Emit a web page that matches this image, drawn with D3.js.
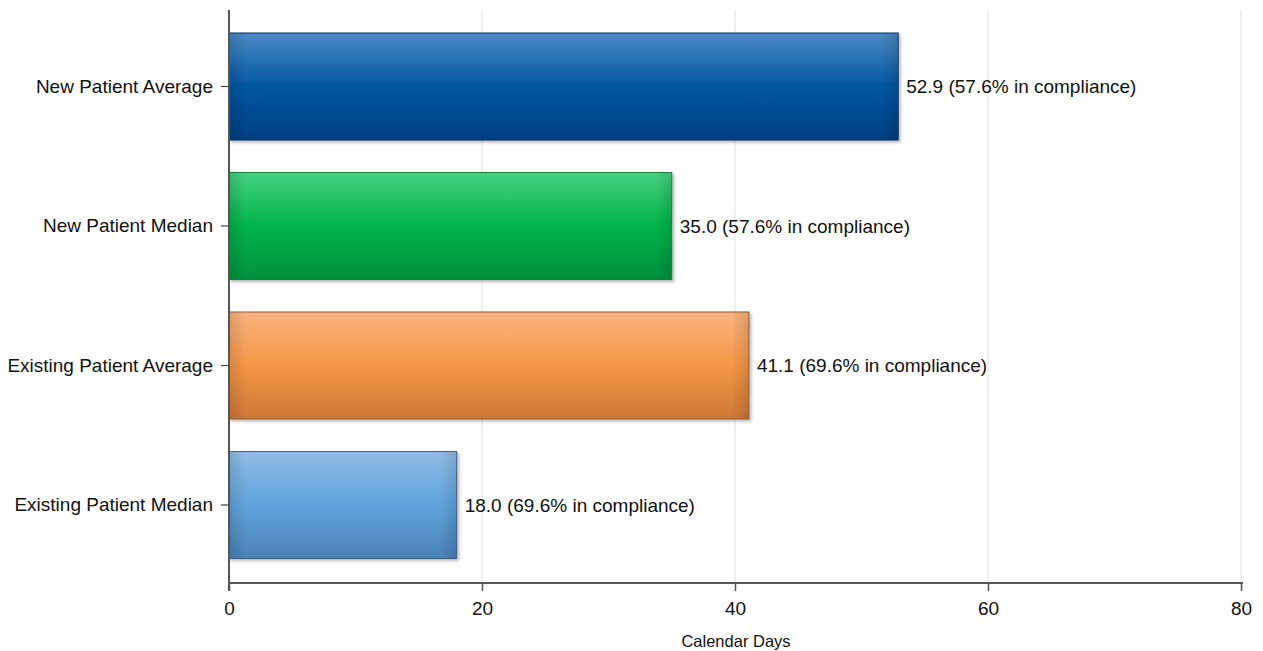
<!DOCTYPE html>
<html>
<head>
<meta charset="utf-8">
<script src="https://cdn.jsdelivr.net/npm/d3@7"></script>
<style>
  html, body { margin: 0; padding: 0; background: #fff; }
  svg { display: block; font-family: "Liberation Sans", Arial, Helvetica, sans-serif; }
</style>
</head>
<body>
<svg id="chart" width="1263" height="651"></svg>
<script>
// Wait-time measures, in calendar days
const categories = ["New Patient Average", "New Patient Median", "Existing Patient Average", "Existing Patient Median"];
const days = [52.9, 35.0, 41.1, 18.0];
const compliance = [57.6, 57.6, 69.6, 69.6];
const xTicks = [0, 20, 40, 60, 80];
const xTitle = "Calendar Days";

// Bar colour ramps: top highlight, body, bottom shade, border
const palette = [
  { top: "#4c8ac3", mid: "#0156a2", bot: "#003f80", stroke: "#0a2f5c" },
  { top: "#47d17f", mid: "#00b44b", bot: "#00913c", stroke: "#1c7a3e" },
  { top: "#f9b37f", mid: "#f59646", bot: "#cc7636", stroke: "#8e5a33" },
  { top: "#8fbde6", mid: "#5fa3dc", bot: "#4a82b6", stroke: "#3d5f80" }
];

const svg = d3.select("#chart");
const left = 229, right = 1241, axisY = 583, topY = 10;
const labelSize = 19;

const x = d3.scaleLinear().domain([0, 80]).range([left, right]);
const y = d3.scaleBand().domain(categories)
  .range([16.75, 574.75]).paddingInner(0.233).paddingOuter(0.1165);

const defs = svg.append("defs");
const shadow = defs.append("filter").attr("id", "shadow")
  .attr("x", "-5%").attr("y", "-10%").attr("width", "115%").attr("height", "130%");
shadow.append("feDropShadow").attr("dx", 2).attr("dy", 2).attr("stdDeviation", 1.6)
  .attr("flood-color", "#000").attr("flood-opacity", 0.28);

categories.forEach((c, i) => {
  const p = palette[i];
  const g = defs.append("linearGradient").attr("id", "vg" + i)
    .attr("x1", 0).attr("y1", 0).attr("x2", 0).attr("y2", 1);
  g.append("stop").attr("offset", "0%").attr("stop-color", p.top);
  g.append("stop").attr("offset", "50%").attr("stop-color", p.mid);
  g.append("stop").attr("offset", "100%").attr("stop-color", p.bot);

  // soft shading along the left and right ends of each bar
  const w = x(days[i]) - x(0);
  const f = Math.min(0.25, 16 / w);
  const h = defs.append("linearGradient").attr("id", "hg" + i)
    .attr("x1", 0).attr("y1", 0).attr("x2", 1).attr("y2", 0);
  h.append("stop").attr("offset", 0).attr("stop-color", "#000").attr("stop-opacity", 0.12);
  h.append("stop").attr("offset", f).attr("stop-color", "#000").attr("stop-opacity", 0);
  h.append("stop").attr("offset", 1 - f).attr("stop-color", "#000").attr("stop-opacity", 0);
  h.append("stop").attr("offset", 1).attr("stop-color", "#000").attr("stop-opacity", 0.12);
});

// vertical gridlines
svg.append("g").selectAll("line").data(xTicks.filter(d => d > 0)).join("line")
  .attr("x1", d => x(d)).attr("x2", d => x(d))
  .attr("y1", topY).attr("y2", axisY)
  .attr("stroke", "#e6e6e6").attr("stroke-width", 1.2);

// bars
const bars = svg.append("g").selectAll("g").data(categories).join("g");
bars.append("rect")
  .attr("x", x(0)).attr("y", d => y(d))
  .attr("width", (d, i) => x(days[i]) - x(0)).attr("height", y.bandwidth())
  .attr("fill", (d, i) => `url(#vg${i})`)
  .attr("stroke", (d, i) => palette[i].stroke).attr("stroke-width", 1)
  .attr("filter", "url(#shadow)");
bars.append("rect")
  .attr("x", x(0) + 0.5).attr("y", d => y(d) + 0.5)
  .attr("width", (d, i) => x(days[i]) - x(0) - 1).attr("height", y.bandwidth() - 1)
  .attr("fill", (d, i) => `url(#hg${i})`);

// value labels
bars.append("text")
  .attr("x", (d, i) => x(days[i]) + 8)
  .attr("y", d => y(d) + y.bandwidth() / 2)
  .attr("dy", "0.35em")
  .attr("font-size", labelSize).attr("fill", "#111")
  .text((d, i) => `${days[i].toFixed(1)} (${compliance[i].toFixed(1)}% in compliance)`);

// x axis
const xAxis = svg.append("g").attr("transform", `translate(0,${axisY})`)
  .call(d3.axisBottom(x).tickValues(xTicks).tickSize(8).tickPadding(11).tickSizeOuter(0));
xAxis.select(".domain").attr("stroke", "#555").attr("stroke-width", 2)
  .attr("d", `M${left},0H${right + 2}`);
xAxis.selectAll(".tick line").attr("stroke", "#555").attr("stroke-width", 1.5);
xAxis.selectAll(".tick text").attr("font-size", labelSize).attr("fill", "#111")
  .attr("font-family", "Liberation Sans, Arial, sans-serif");

// y axis
const yAxis = svg.append("g").attr("transform", `translate(${left},0)`)
  .call(d3.axisLeft(y).tickSize(8).tickPadding(8).tickSizeOuter(0));
yAxis.select(".domain").attr("stroke", "#555").attr("stroke-width", 2)
  .attr("d", `M0,${topY}V${axisY + 8}`);
yAxis.selectAll(".tick line").attr("stroke", "#444").attr("stroke-width", 1.2);
yAxis.selectAll(".tick text").attr("font-size", labelSize).attr("fill", "#111")
  .attr("font-family", "Liberation Sans, Arial, sans-serif");

// axis title
svg.append("text").attr("x", (left + right) / 2 + 1).attr("y", 647)
  .attr("text-anchor", "middle").attr("font-size", 16.5).attr("fill", "#111")
  .text(xTitle);
</script>
</body>
</html>
